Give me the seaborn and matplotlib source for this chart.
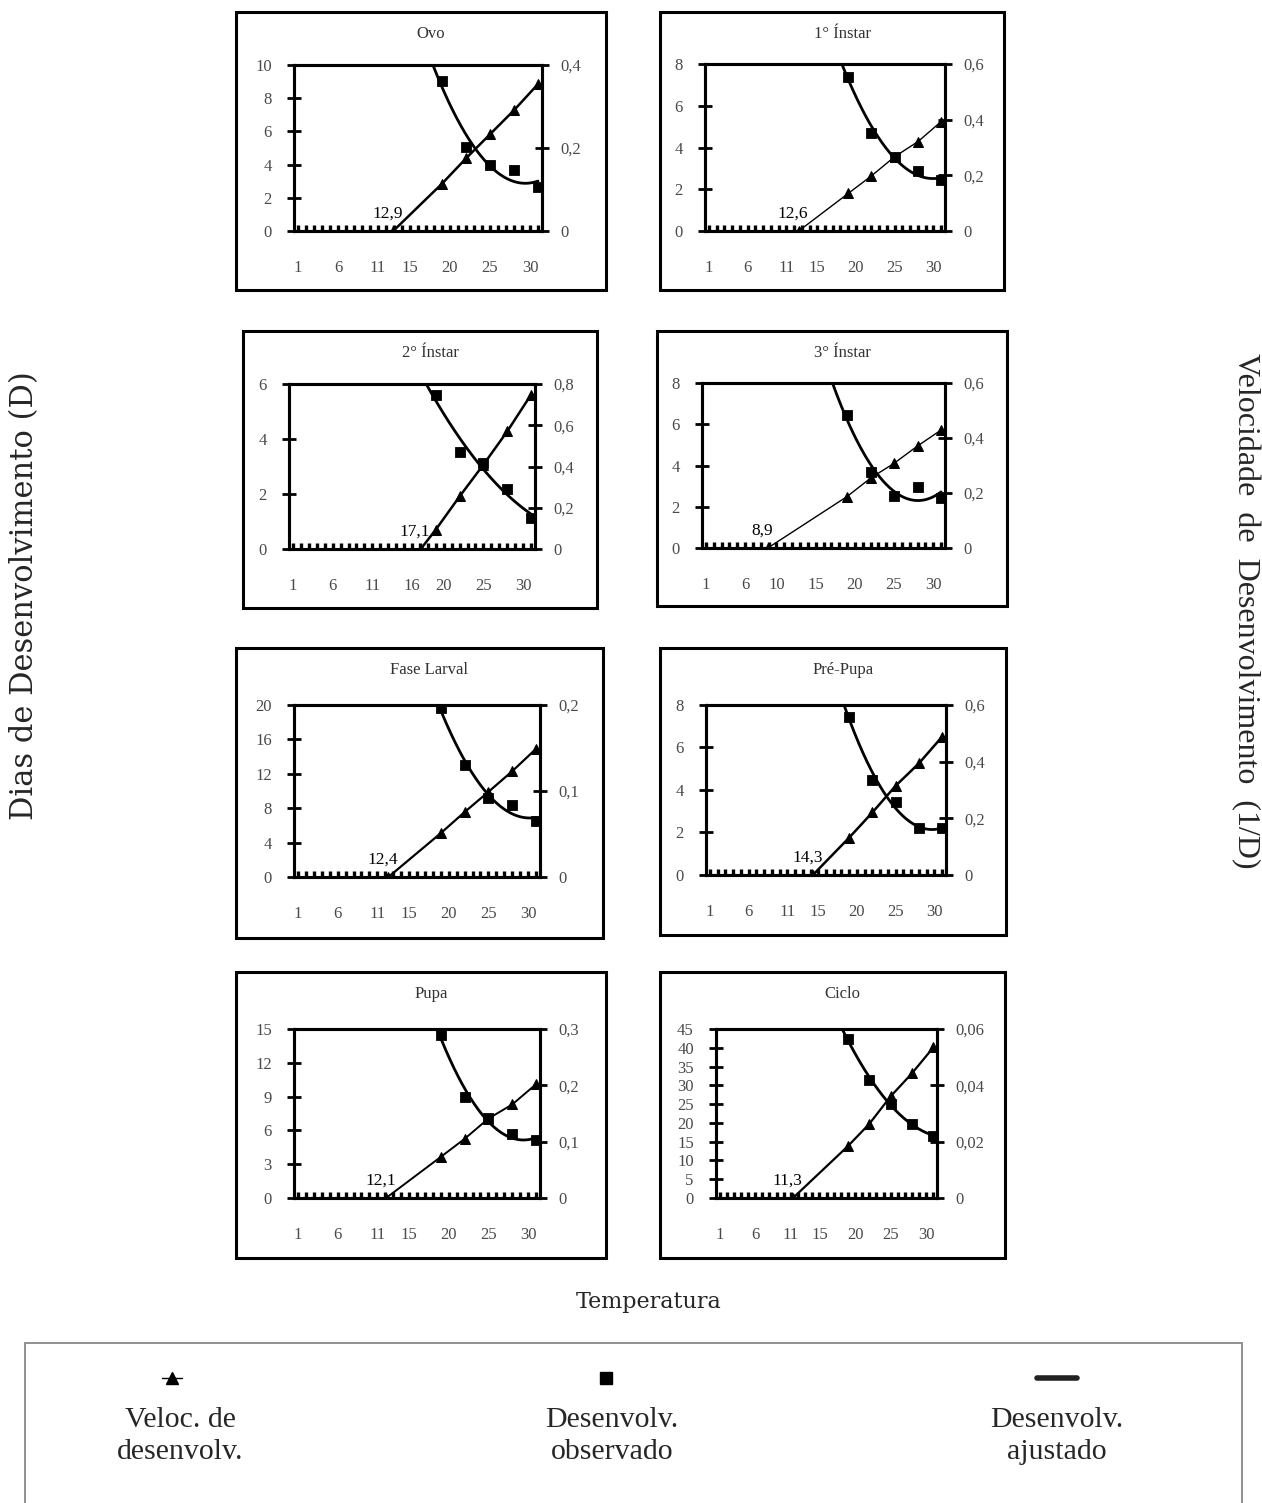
import numpy as np
import matplotlib
matplotlib.use("Agg")
import matplotlib.pyplot as plt
from matplotlib.patches import Rectangle
from matplotlib.lines import Line2D
from matplotlib.ticker import FuncFormatter
import seaborn as sns

sns.set_style("white")
plt.rcParams['font.family'] = ['Liberation Serif', 'DejaVu Serif']

# temperaturas testadas
temps = [19, 22, 25, 28, 31]

titles = ["Ovo", "1° Ínstar", "2° Ínstar", "3° Ínstar",
          "Fase Larval", "Pré-Pupa", "Pupa", "Ciclo"]

# temperatura base (limiar inferior)
base_temp = [12.9, 12.6, 17.1, 8.9, 12.4, 14.3, 12.1, 11.3]

# dias de desenvolvimento observados
ovo_obs = [9.03, 5.07, 3.96, 3.66, 2.66]
inst1_obs = [7.40, 4.71, 3.56, 2.87, 2.44]
inst2_obs = [5.61, 3.52, 3.13, 2.18, 1.13]
inst3_obs = [6.44, 3.70, 2.50, 2.98, 2.42]
larva_obs = [19.7, 13.0, 9.18, 8.40, 6.46]
prepupa_obs = [7.45, 4.47, 3.45, 2.20, 2.20]
pupa_obs = [14.5, 8.99, 7.06, 5.67, 5.13]
ciclo_obs = [42.3, 31.5, 25.1, 19.75, 16.5]

# velocidade de desenvolvimento (1/D)
ovo_vel = [0.114, 0.175, 0.233, 0.291, 0.354]
inst1_vel = [0.135, 0.198, 0.267, 0.321, 0.393]
inst2_vel = [0.094, 0.255, 0.409, 0.570, 0.748]
inst3_vel = [0.187, 0.254, 0.308, 0.371, 0.429]
larva_vel = [0.051, 0.0755, 0.099, 0.123, 0.149]
prepupa_vel = [0.132, 0.221, 0.315, 0.394, 0.488]
pupa_vel = [0.073, 0.105, 0.141, 0.166, 0.202]
ciclo_vel = [0.0184, 0.0263, 0.0361, 0.0443, 0.0535]

observed = [ovo_obs, inst1_obs, inst2_obs, inst3_obs,
            larva_obs, prepupa_obs, pupa_obs, ciclo_obs]
velocity = [ovo_vel, inst1_vel, inst2_vel, inst3_vel,
            larva_vel, prepupa_vel, pupa_vel, ciclo_vel]

# escalas dos eixos
days_max = [10, 8, 6, 8, 20, 8, 15, 45]
days_step = [2, 2, 2, 2, 4, 2, 3, 5]
vel_max = [0.4, 0.6, 0.8, 0.6, 0.2, 0.6, 0.3, 0.06]
vel_step = [0.2, 0.2, 0.2, 0.2, 0.1, 0.2, 0.1, 0.02]

xlabels_std = [1, 6, 11, 15, 20, 25, 30]
xlabels = [xlabels_std, xlabels_std, [1, 6, 11, 16, 20, 25, 30],
           [1, 6, 10, 15, 20, 25, 30], xlabels_std, xlabels_std,
           xlabels_std, xlabels_std]

# layout in pixels: inner plot box (x0, x1, y0, y1) and outer frame
W, H = 1262, 1503
inner = [(294, 542, 65, 231), (705, 945, 64, 231),
         (289, 535, 384, 549), (702, 945, 383, 548),
         (294, 540, 705, 877), (706, 946, 705, 875),
         (294, 540, 1029, 1198), (716, 937, 1029, 1198)]
outer = [(236, 606, 12, 290), (660, 1004, 12, 290),
         (243, 597, 331, 608), (657, 1007, 331, 606),
         (236, 603, 648, 938), (660, 1006, 648, 935),
         (236, 606, 972, 1258), (660, 1005, 972, 1258)]
vel_lw = [1.8, 1.0, 1.8, 1.0, 1.6, 1.8, 1.4, 1.6]

comma = FuncFormatter(lambda v, p: ("%g" % round(v, 4)).replace(".", ","))
tick_col = "#4a4a4a"

fig = plt.figure(figsize=(W / 100, H / 100), dpi=100)

for i in range(8):
    x0, x1, y0, y1 = inner[i]
    ax = fig.add_axes([x0 / W, 1 - y1 / H, (x1 - x0) / W, (y1 - y0) / H])
    ax2 = ax.twinx()

    # curva ajustada (polinomio de 2o grau sobre os dias observados)
    coef = np.polyfit(temps, observed[i], 2)
    xs = np.linspace(14, 31, 200)
    sns.lineplot(x=xs, y=np.polyval(coef, xs), ax=ax, color="black", lw=2.0)
    sns.scatterplot(x=temps, y=observed[i], ax=ax, color="black",
                    marker="s", s=55, edgecolor="black", zorder=5)

    # velocidade de desenvolvimento
    vx = [base_temp[i]] + temps
    vy = [0] + velocity[i]
    sns.lineplot(x=vx, y=vy, ax=ax2, color="black", lw=vel_lw[i],
                 marker="^", markersize=7.5, markeredgecolor="black",
                 estimator=None)
    ax2.annotate(("%.1f" % base_temp[i]).replace(".", ","), (base_temp[i], 0),
                 xytext=(-4, 7), textcoords="offset points",
                 ha="center", va="bottom", fontsize=12.5, color="black")

    ax.set_xlim(0.5, 31.5)
    ax.set_ylim(0, days_max[i])
    ax2.set_ylim(0, vel_max[i])
    ax.set_yticks(np.arange(0, days_max[i] + 0.001, days_step[i]))
    ax2.set_yticks(np.arange(0, vel_max[i] + 1e-6, vel_step[i]))
    ax2.yaxis.set_major_formatter(comma)
    ax.xaxis.remove_overlapping_locs = False
    ax.set_xticks(xlabels[i])
    ax.set_xticks(np.arange(1, 32), minor=True)
    ax.set_xlabel("")
    ax.set_ylabel("")
    ax2.set_ylabel("")

    ax.tick_params(axis="y", left=True, direction="inout", length=10,
                   width=2, color="black", pad=11, labelsize=12,
                   labelcolor=tick_col)
    ax2.tick_params(axis="y", right=True, direction="inout", length=10,
                    width=2, color="black", pad=8, labelsize=12,
                    labelcolor=tick_col)
    ax.tick_params(axis="x", which="major", bottom=True, length=0, pad=21,
                   labelsize=12, labelcolor=tick_col)
    ax.tick_params(axis="x", which="minor", bottom=True, direction="in",
                   length=4, width=2.4, color="black")
    for a in (ax, ax2):
        for sp in a.spines.values():
            sp.set_linewidth(2.2)
            sp.set_color("black")
            sp.set_visible(True)

    # moldura e titulo
    ox0, ox1, oy0, oy1 = outer[i]
    fig.add_artist(Rectangle((ox0 / W, 1 - oy1 / H), (ox1 - ox0) / W,
                             (oy1 - oy0) / H, transform=fig.transFigure,
                             fill=False, lw=2.2, ec="black"))
    fig.text(((ox0 + ox1) / 2 + 10) / W, 1 - (oy0 + 22) / H, titles[i],
             ha="center", va="center", fontsize=12, color="#333333")

# rotulos gerais
fig.text(25 / W, 1 - 596 / H, "Dias de Desenvolvimento (D)", rotation=90,
         ha="center", va="center", fontsize=22, family=["DejaVu Serif"])
fig.text(1245 / W, 1 - 611 / H, "Velocidade  de  Desenvolvimento  (1/D)",
         rotation=-90, ha="center", va="center", fontsize=23)
fig.text(649 / W, 1 - 1302 / H, "Temperatura", ha="center", va="center",
         fontsize=16, family=["DejaVu Serif"])

# legenda
fig.add_artist(Rectangle((25 / W, 1 - 1560 / H), (1242 - 25) / W,
                         (1560 - 1343) / H, transform=fig.transFigure,
                         fill=False, lw=1.3, ec="#888888"))
ly = 1 - 1378 / H
fig.add_artist(Line2D([162 / W, 182 / W], [ly, ly], color="black", lw=1,
                      transform=fig.transFigure))
fig.add_artist(Line2D([172 / W], [ly], marker="^", ms=9, color="black",
                      transform=fig.transFigure))
fig.add_artist(Line2D([606 / W], [ly], marker="s", ms=9, color="black",
                      transform=fig.transFigure))
fig.add_artist(Line2D([1037 / W, 1077 / W], [ly, ly], color="#222222", lw=4,
                      transform=fig.transFigure))
for xc, txt in [(180, "Veloc. de\ndesenvolv."), (612, "Desenvolv.\nobservado"),
                (1057, "Desenvolv.\najustado")]:
    fig.text(xc / W, 1 - 1436 / H, txt, ha="center", va="center",
             fontsize=21.5, linespacing=1.3)

fig.savefig("out.png", dpi=100)
